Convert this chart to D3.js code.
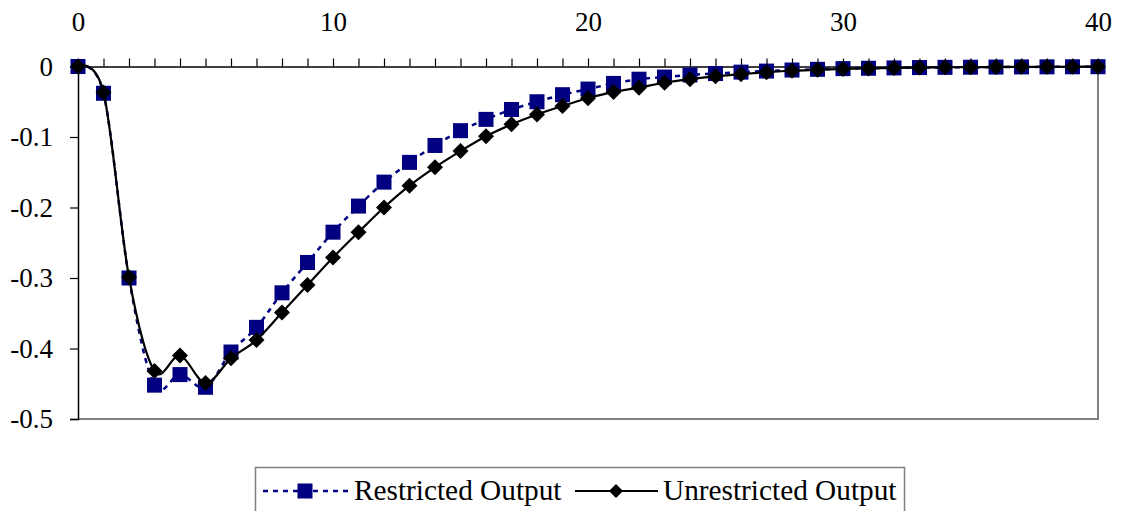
<!DOCTYPE html>
<html>
<head>
<meta charset="utf-8">
<script src="https://cdn.jsdelivr.net/npm/d3@7/dist/d3.min.js"></script>
<style>
  html, body { margin: 0; padding: 0; background: #fff; }
  svg { display: block; }
</style>
</head>
<body>
<svg id="chart" width="1123" height="511" font-family="Liberation Serif"></svg>
<script>
// ---- data ----
const periods = d3.range(0, 41);
const restricted = [0, -0.038, -0.300, -0.452, -0.437, -0.455, -0.405, -0.370, -0.321, -0.278,
  -0.235, -0.198, -0.164, -0.136, -0.112, -0.091, -0.075, -0.061, -0.050, -0.040,
  -0.032, -0.024, -0.018, -0.015, -0.012, -0.010, -0.008, -0.0065, -0.005, -0.004,
  -0.003, -0.0025, -0.002, -0.0015, -0.0012, -0.001, -0.0008, -0.0006, -0.0005, -0.0004, -0.0003];
const unrestricted = [0, -0.037, -0.299, -0.432, -0.410, -0.449, -0.414, -0.388, -0.349, -0.310,
  -0.271, -0.235, -0.200, -0.169, -0.143, -0.120, -0.099, -0.082, -0.068, -0.056,
  -0.045, -0.036, -0.030, -0.023, -0.018, -0.014, -0.011, -0.008, -0.006, -0.0047,
  -0.0035, -0.0027, -0.002, -0.0015, -0.0012, -0.0009, -0.0007, -0.0005, -0.0004, -0.0003, -0.0002];
const xTickLabels = [0, 10, 20, 30, 40];
const yTickLabels = [0, -0.1, -0.2, -0.3, -0.4, -0.5];
const seriesNames = ["Restricted Output", "Unrestricted Output"];

const FONT = "Liberation Serif";

// ---- layout ----
const svg = d3.select("#chart");
const pLeft = 78, pRight = 1098, pTop = 66.5, pBottom = 419;
const x = d3.scaleLinear().domain([0, 40]).range([pLeft, pRight]);
const y = d3.scaleLinear().domain([-0.5, 0]).range([pBottom, pTop]);

// plot frame (gray right & bottom)
svg.append("path")
  .attr("d", `M${pRight},${pTop}V${pBottom}H${pLeft}`)
  .attr("fill", "none").attr("stroke", "#808080").attr("stroke-width", 2);

// left axis
const yAxis = d3.axisLeft(y).tickValues(yTickLabels).tickSize(8).tickPadding(17)
  .tickFormat(d => d === 0 ? "0" : d3.format(".1f")(d).replace("−", "-"));
const gy = svg.append("g").attr("transform", `translate(${pLeft},0)`).call(yAxis)
  .attr("font-family", FONT).attr("font-size", 27);
gy.select(".domain").attr("stroke", "#000").attr("stroke-width", 1.5);
gy.selectAll(".tick line").attr("stroke", "#000").attr("stroke-width", 1.2);
gy.selectAll(".tick text").attr("fill", "#000");

// top axis (at y = 0) with minor ticks every period
const xAxis = d3.axisTop(x).tickValues(periods).tickSize(8).tickSizeOuter(0)
  .tickFormat(d => xTickLabels.includes(d) ? d : "");
const gx = svg.append("g").attr("transform", `translate(0,${y(0)})`).call(xAxis)
  .attr("font-family", FONT).attr("font-size", 27);
gx.select(".domain").attr("stroke", "#000").attr("stroke-width", 1.5);
gx.selectAll(".tick line").attr("stroke", "#000").attr("stroke-width", 1.2);
gx.selectAll(".tick text").attr("fill", "#000").attr("dy", 0).attr("y", -36);

// lines
const line = d3.line().x((d, i) => x(periods[i])).y(d => y(d)).curve(d3.curveCardinal.tension(0));
svg.append("path").datum(restricted).attr("d", line)
  .attr("fill", "none").attr("stroke", "#000080").attr("stroke-width", 2.5)
  .attr("stroke-dasharray", "5,5");

const sq = 15;
svg.append("g").selectAll("rect").data(restricted).join("rect")
  .attr("x", (d, i) => x(periods[i]) - sq / 2).attr("y", d => y(d) - sq / 2)
  .attr("width", sq).attr("height", sq).attr("fill", "#000080");

svg.append("path").datum(unrestricted).attr("d", line)
  .attr("fill", "none").attr("stroke", "#000").attr("stroke-width", 2.2);

const diamond = (cx, cy, r) => `M${cx},${cy - r}L${cx + r},${cy}L${cx},${cy + r}L${cx - r},${cy}Z`;
svg.append("g").selectAll("path").data(unrestricted).join("path")
  .attr("d", (d, i) => diamond(x(periods[i]), y(d), 8)).attr("fill", "#000");

// legend
const lg = svg.append("g").attr("font-family", FONT).attr("font-size", 29.3);
lg.append("rect").attr("x", 255.5).attr("y", 467.5).attr("width", 649).attr("height", 60)
  .attr("fill", "#fff").attr("stroke", "#808080").attr("stroke-width", 1.5);
const ly = 491;
lg.append("line").attr("x1", 263).attr("x2", 348).attr("y1", ly).attr("y2", ly)
  .attr("stroke", "#000080").attr("stroke-width", 2.5).attr("stroke-dasharray", "5,5");
lg.append("rect").attr("x", 305 - 7.5).attr("y", ly - 7.5).attr("width", 15).attr("height", 15).attr("fill", "#000080");
lg.append("text").attr("x", 354).attr("y", 500).attr("fill", "#000").text(seriesNames[0]);
lg.append("line").attr("x1", 575).attr("x2", 658).attr("y1", ly).attr("y2", ly)
  .attr("stroke", "#000").attr("stroke-width", 2.2);
lg.append("path").attr("d", diamond(616, ly, 7)).attr("fill", "#000");
lg.append("text").attr("x", 663).attr("y", 500).attr("fill", "#000").text(seriesNames[1]);
</script>
</body>
</html>
